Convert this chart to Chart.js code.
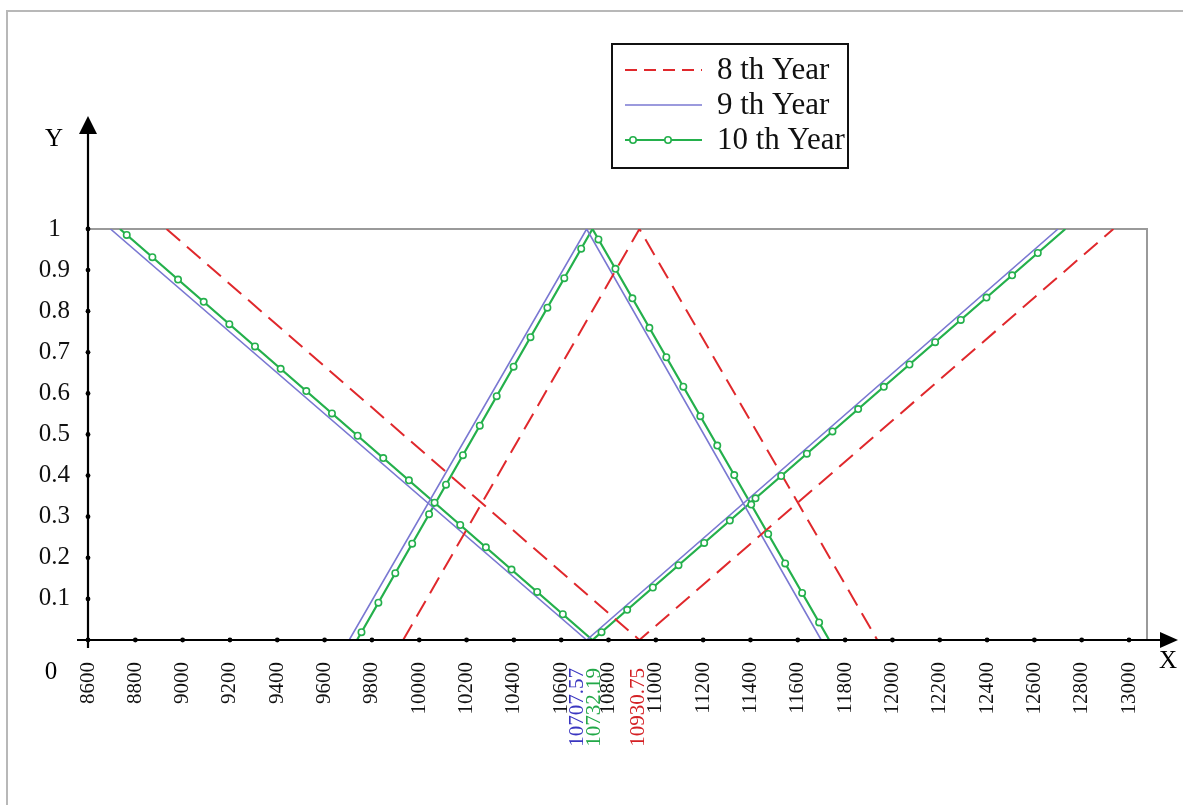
<!DOCTYPE html>
<html>
<head>
<meta charset="utf-8">
<script src="https://cdn.jsdelivr.net/npm/chart.js@4.4.1/dist/chart.umd.min.js"></script>
<style>
  body { margin: 0; background: #fff; }
  canvas { display: block; }
</style>
</head>
<body>
<canvas id="chart" width="1183" height="805"></canvas>
<script>
const yearNames = ['8 th Year', '9 th Year', '10 th Year'];
const peakValues = [10930.75, 10707.57, 10732.19];
const peakLabels = ['10930.75', '10707.57', '10732.19'];

// falling then rising line: top left, bottom, top right
const vLineX = [
  [8932, 10930.75, 12934],
  [8695, 10707.57, 12700],
  [8735, 10732.19, 12731],
];
const vLineY = [1, 0, 1];

// triangle: bottom left, top, bottom right
const triangleX = [
  [9932, 10930.75, 11936],
  [9704, 10707.57, 11699],
  [9737, 10732.19, 11733],
];
const triangleY = [0, 1, 0];

const xTickValues = [8600, 8800, 9000, 9200, 9400, 9600, 9800, 10000, 10200, 10400, 10600,
  10800, 11000, 11200, 11400, 11600, 11800, 12000, 12200, 12400, 12600, 12800, 13000];
const yTickValues = [0.1, 0.2, 0.3, 0.4, 0.5, 0.6, 0.7, 0.8, 0.9, 1];

const serif = '"Liberation Serif", "Times New Roman", serif';
const seriesStyle = [
  { color: '#e0282c', width: 2, dash: [18, 9], labelColor: '#d42024' },
  { color: '#7a78d2', width: 1.6, dash: [], labelColor: '#3a36c0' },
  { color: '#24b04c', width: 2.2, dash: [], labelColor: '#22a848' },
];
const peakLabelShift = [-1, -9, 2];

function toPoints(xs, ys) {
  return xs.map((x, i) => ({ x: x, y: ys[i] }));
}

const datasets = [];
yearNames.forEach((name, i) => {
  const style = seriesStyle[i];
  [toPoints(vLineX[i], vLineY), toPoints(triangleX[i], triangleY)].forEach(points => {
    datasets.push({
      label: name,
      series: i,
      data: points,
      showLine: true,
      borderColor: style.color,
      borderWidth: style.width,
      borderDash: style.dash,
      pointRadius: 0,
      pointHoverRadius: 0,
      fill: false,
      tension: 0,
    });
  });
});

function circle(ctx, x, y, color) {
  ctx.beginPath();
  ctx.arc(x, y, 3.2, 0, Math.PI * 2);
  ctx.fillStyle = '#fff';
  ctx.fill();
  ctx.lineWidth = 1.6;
  ctx.strokeStyle = color;
  ctx.stroke();
}

// open circle markers placed along the line at a fixed pixel spacing
function drawMarkers(ctx, points, color) {
  const step = 34;
  let d = 9;
  for (let i = 0; i < points.length - 1; i++) {
    const a = points[i], b = points[i + 1];
    const len = Math.hypot(b.x - a.x, b.y - a.y);
    while (d < len - 6) {
      circle(ctx, a.x + (b.x - a.x) * d / len, a.y + (b.y - a.y) * d / len, color);
      d += step;
    }
    d = Math.max(d - len, 12);
  }
}

function arrowHead(ctx, tipX, tipY, dir) {
  ctx.beginPath();
  if (dir === 'up') {
    ctx.moveTo(tipX, tipY);
    ctx.lineTo(tipX - 9, tipY + 18);
    ctx.lineTo(tipX + 9, tipY + 18);
  } else {
    ctx.moveTo(tipX, tipY);
    ctx.lineTo(tipX - 18, tipY - 8);
    ctx.lineTo(tipX - 18, tipY + 8);
  }
  ctx.closePath();
  ctx.fillStyle = '#000';
  ctx.fill();
}

const framePlugin = {
  id: 'frame',
  beforeDraw(chart) {
    const ctx = chart.ctx;
    ctx.save();
    ctx.fillStyle = '#fff';
    ctx.fillRect(0, 0, chart.width, chart.height);
    ctx.strokeStyle = '#b8b8b8';
    ctx.lineWidth = 2;
    ctx.beginPath();
    ctx.moveTo(7, chart.height);
    ctx.lineTo(7, 11);
    ctx.lineTo(chart.width, 11);
    ctx.stroke();
    ctx.restore();
  },
  beforeDatasetsDraw(chart) {
    const { ctx, chartArea } = chart;
    ctx.save();
    ctx.strokeStyle = '#9a9a9a';
    ctx.lineWidth = 2;
    ctx.beginPath();
    ctx.moveTo(chartArea.left, chartArea.top);
    ctx.lineTo(chartArea.right, chartArea.top);
    ctx.lineTo(chartArea.right, chartArea.bottom);
    ctx.stroke();
    ctx.restore();
  },
};

const axesPlugin = {
  id: 'axes',
  afterDatasetsDraw(chart) {
    const { ctx, scales } = chart;
    const x0 = scales.x.getPixelForValue(8600);
    const y0 = scales.y.getPixelForValue(0);
    ctx.save();

    // green markers
    chart.data.datasets.forEach((ds, i) => {
      if (ds.series !== 2) return;
      const pts = chart.getDatasetMeta(i).data.map(p => ({ x: p.x, y: p.y }));
      drawMarkers(ctx, pts, seriesStyle[2].color);
    });

    // axes with arrows
    ctx.strokeStyle = '#000';
    ctx.lineWidth = 2.2;
    ctx.beginPath();
    ctx.moveTo(77, y0);
    ctx.lineTo(1162, y0);
    ctx.moveTo(x0, y0 + 8);
    ctx.lineTo(x0, 132);
    ctx.stroke();
    arrowHead(ctx, 1178, y0, 'right');
    arrowHead(ctx, x0, 116, 'up');

    // tick dots
    ctx.fillStyle = '#000';
    xTickValues.forEach(v => {
      ctx.beginPath();
      ctx.arc(scales.x.getPixelForValue(v), y0, 2.4, 0, Math.PI * 2);
      ctx.fill();
    });
    yTickValues.forEach(v => {
      ctx.beginPath();
      ctx.arc(x0, scales.y.getPixelForValue(v), 2.4, 0, Math.PI * 2);
      ctx.fill();
    });

    // axis names and origin
    ctx.font = '25px ' + serif;
    ctx.textAlign = 'center';
    ctx.textBaseline = 'middle';
    ctx.fillText('Y', 54, 139);
    ctx.fillText('X', 1168, 661);
    ctx.fillText('0', 51, 672);

    // coloured peak values under the axis
    ctx.font = '21px ' + serif;
    ctx.textAlign = 'right';
    peakValues.forEach((v, i) => {
      ctx.save();
      ctx.translate(scales.x.getPixelForValue(v) + peakLabelShift[i], y0 + 28);
      ctx.rotate(-Math.PI / 2);
      ctx.fillStyle = seriesStyle[i].labelColor;
      ctx.fillText(peakLabels[i], 0, 0);
      ctx.restore();
    });

    // legend box
    ctx.lineWidth = 2;
    ctx.strokeStyle = '#111';
    ctx.strokeRect(612, 44, 236, 124);
    const rows = [70, 105, 140];
    ctx.font = '31px ' + serif;
    ctx.textAlign = 'left';
    yearNames.forEach((name, i) => {
      const s = seriesStyle[i];
      ctx.beginPath();
      ctx.strokeStyle = s.color;
      ctx.lineWidth = s.width;
      ctx.setLineDash(i === 0 ? [12, 7] : []);
      ctx.moveTo(625, rows[i]);
      ctx.lineTo(702, rows[i]);
      ctx.stroke();
      ctx.setLineDash([]);
      if (i === 2) {
        circle(ctx, 633, rows[i], s.color);
        circle(ctx, 668, rows[i], s.color);
      }
      ctx.fillStyle = '#111';
      ctx.fillText(name, 717, rows[i] + 1);
    });
    ctx.restore();
  },
};

new Chart(document.getElementById('chart'), {
  type: 'scatter',
  data: { datasets: datasets },
  options: {
    responsive: false,
    devicePixelRatio: 1,
    animation: false,
    layout: { padding: { top: 229, right: 36, left: 0, bottom: 0 } },
    plugins: {
      legend: { display: false },
      tooltip: { enabled: false },
    },
    scales: {
      x: {
        type: 'linear',
        min: 8600,
        max: 13076,
        afterBuildTicks: scale => { scale.ticks = xTickValues.map(v => ({ value: v })); },
        afterFit: scale => { scale.height = 165; },
        grid: { display: false, drawTicks: false },
        border: { display: false },
        ticks: {
          autoSkip: false,
          minRotation: 90,
          maxRotation: 90,
          padding: 22,
          color: '#111',
          font: { family: serif, size: 21 },
          callback: v => String(v),
        },
      },
      y: {
        type: 'linear',
        min: 0,
        max: 1,
        afterBuildTicks: scale => { scale.ticks = yTickValues.map(v => ({ value: v })); },
        afterFit: scale => { scale.width = 88; },
        grid: { display: false, drawTicks: false },
        border: { display: false },
        ticks: {
          crossAlign: 'center',
          padding: 18,
          color: '#111',
          font: { family: serif, size: 25 },
          callback: v => String(Math.round(v * 10) / 10),
        },
      },
    },
  },
  plugins: [framePlugin, axesPlugin],
});
</script>
</body>
</html>
